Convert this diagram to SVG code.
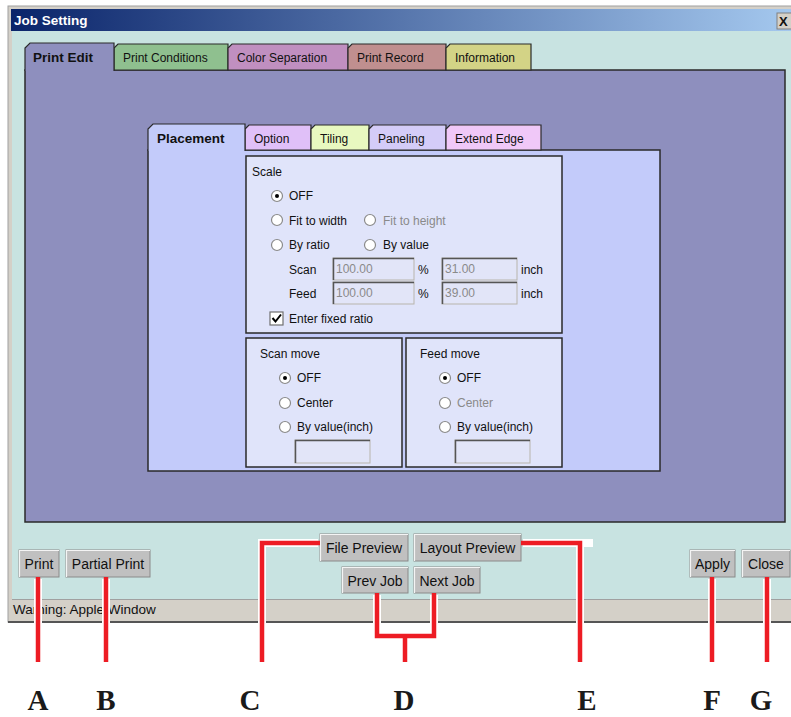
<svg xmlns="http://www.w3.org/2000/svg" width="791" height="717" viewBox="0 0 791 717">
<defs>
<linearGradient id="tb" x1="0" y1="0" x2="1" y2="0">
<stop offset="0" stop-color="#0a246a"/>
<stop offset="1" stop-color="#a6caf0"/>
</linearGradient>
<style>
text{font-family:"Liberation Sans",Arial,sans-serif;font-size:12px;fill:#111}
.b{font-weight:bold;font-size:13.5px}
.g{fill:#8a8a8a}
.tab{stroke:#2a2a2a;stroke-width:1.2}
.grp{fill:#e0e4fa;stroke:#2a2a2a;stroke-width:1.5}
.inp{fill:#e2e5f8;stroke:#b8b4ac;stroke-width:1}
.inpd{fill:none;stroke:#555;stroke-width:1.5}
.btn{fill:#c0c0c0;stroke:#8a8a8a;stroke-width:1}
.btnh{fill:none;stroke:#f4f4f4;stroke-width:1.2}
.rad{fill:#fff;stroke:#8a8a8a;stroke-width:1.2}
.bt{text-anchor:middle;font-size:14px}
.st{font-size:13.5px}
.halo{fill:none;stroke:#fff;stroke-width:8}
.red{fill:none;stroke:#ed1c24;stroke-width:4.5}
.lbl{font-family:"Liberation Serif","Times New Roman",serif;font-size:29px;font-weight:bold;text-anchor:middle;fill:#1a1a1a}
</style>
</defs>
<rect width="791" height="717" fill="#fff"/>

<g id="window">
<rect x="8" y="6" width="790" height="616" fill="#d4d0c8" stroke="#a0a0a0" stroke-width="1"/>
<rect x="12" y="9" width="780" height="592" fill="#c8e3e1"/>
<rect x="11" y="9" width="790" height="22" fill="url(#tb)"/>
<text x="14" y="25" class="b" style="fill:#fff">Job Setting</text>
<rect x="777" y="13" width="16" height="16" fill="#d4d0c8" stroke="#808080"/>
<text x="779" y="26" class="b" style="font-size:13px">X</text>
<line x1="8" y1="622" x2="791" y2="622" stroke="#555" stroke-width="2"/>
</g>

<g id="main-panel">
<rect x="25" y="70" width="760" height="452" fill="#8e8fbe" stroke="#2a2a2a" stroke-width="1.5"/>
</g>

<g id="tab-print-conditions">
<path class="tab" d="M114,70 V48 L118,44 H228 V70 Z" fill="#8fc08f"/>
<text x="123" y="62">Print Conditions</text>
</g>
<g id="tab-color-separation">
<path class="tab" d="M228,70 V48 L232,44 H348 V70 Z" fill="#c08fc0"/>
<text x="237" y="62">Color Separation</text>
</g>
<g id="tab-print-record">
<path class="tab" d="M348,70 V48 L352,44 H446 V70 Z" fill="#c08f8f"/>
<text x="357" y="62">Print Record</text>
</g>
<g id="tab-information">
<path class="tab" d="M446,70 V48 L450,44 H531 V70 Z" fill="#d3d386"/>
<text x="455" y="62">Information</text>
</g>
<g id="tab-print-edit">
<path d="M25,71 V48 L30,43 H114 V71 Z" fill="#8e8fbe"/>
<path class="tab" d="M25,71 V48 L30,43 H114 V71" fill="none"/>
<text x="33" y="62" class="b">Print Edit</text>
</g>

<g id="inner-panel">
<rect x="148" y="150" width="512" height="321" fill="#c3cbfa" stroke="#2a2a2a" stroke-width="1.5"/>
</g>
<g id="tab-option">
<path class="tab" d="M245,150 V129 L249,125 H311 V150 Z" fill="#e0c0f8"/>
<text x="254" y="143">Option</text>
</g>
<g id="tab-tiling">
<path class="tab" d="M311,150 V129 L315,125 H369 V150 Z" fill="#e8f8c0"/>
<text x="320" y="143">Tiling</text>
</g>
<g id="tab-paneling">
<path class="tab" d="M369,150 V129 L373,125 H446 V150 Z" fill="#d4ccf8"/>
<text x="378" y="143">Paneling</text>
</g>
<g id="tab-extend-edge">
<path class="tab" d="M446,150 V129 L450,125 H541 V150 Z" fill="#f0c8f8"/>
<text x="455" y="143">Extend Edge</text>
</g>
<g id="tab-placement">
<path d="M148,151 V129 L153,124 H245 V151 Z" fill="#c3cbfa"/>
<path class="tab" d="M148,151 V129 L153,124 H245 V151" fill="none"/>
<text x="157" y="143" class="b">Placement</text>
</g>

<g id="scale-box">
<rect class="grp" x="246" y="156" width="316" height="177"/>
<text x="252" y="176">Scale</text>
<circle class="rad" cx="277" cy="196" r="5.5"/><circle cx="277" cy="196" r="2" fill="#000"/>
<text x="289" y="200">OFF</text>
<circle class="rad" cx="277" cy="220" r="5.5"/>
<text x="289" y="225">Fit to width</text>
<circle class="rad" cx="370" cy="220" r="5.5"/>
<text x="383" y="225" class="g">Fit to height</text>
<circle class="rad" cx="277" cy="245" r="5.5"/>
<text x="289" y="249">By ratio</text>
<circle class="rad" cx="370" cy="245" r="5.5"/>
<text x="383" y="249">By value</text>
<text x="289" y="274">Scan</text>
<rect class="inp" x="333" y="258" width="81" height="22"/>
<path class="inpd" d="M333.5,280 V258.5 H414"/>
<text x="336" y="273" class="g">100.00</text>
<text x="418" y="274">%</text>
<rect class="inp" x="442" y="258" width="75" height="22"/>
<path class="inpd" d="M442.5,280 V258.5 H517"/>
<text x="445" y="273" class="g">31.00</text>
<text x="521" y="274">inch</text>
<text x="289" y="298">Feed</text>
<rect class="inp" x="333" y="282" width="81" height="22"/>
<path class="inpd" d="M333.5,304 V282.5 H414"/>
<text x="336" y="297" class="g">100.00</text>
<text x="418" y="298">%</text>
<rect class="inp" x="442" y="282" width="75" height="22"/>
<path class="inpd" d="M442.5,304 V282.5 H517"/>
<text x="445" y="297" class="g">39.00</text>
<text x="521" y="298">inch</text>
<rect x="270" y="312" width="13" height="13" fill="#fff" stroke="#707070" stroke-width="1.2"/>
<path d="M272.5,318 L275.5,321.5 L281,314.5" fill="none" stroke="#000" stroke-width="2"/>
<text x="289" y="323">Enter fixed ratio</text>
</g>

<g id="scan-move-box">
<rect class="grp" x="246" y="338" width="156" height="129"/>
<text x="260" y="358">Scan move</text>
<circle class="rad" cx="285" cy="378" r="5.5"/><circle cx="285" cy="378" r="2" fill="#000"/>
<text x="297" y="382">OFF</text>
<circle class="rad" cx="285" cy="403" r="5.5"/>
<text x="297" y="407">Center</text>
<circle class="rad" cx="285" cy="427" r="5.5"/>
<text x="297" y="431">By value(inch)</text>
<rect class="inp" x="295" y="440" width="75" height="23"/>
<path class="inpd" d="M295.5,463 V440.5 H370"/>
</g>

<g id="feed-move-box">
<rect class="grp" x="406" y="338" width="156" height="129"/>
<text x="420" y="358">Feed move</text>
<circle class="rad" cx="445" cy="378" r="5.5"/><circle cx="445" cy="378" r="2" fill="#000"/>
<text x="457" y="382">OFF</text>
<circle class="rad" cx="445" cy="403" r="5.5"/>
<text x="457" y="407" class="g">Center</text>
<circle class="rad" cx="445" cy="427" r="5.5"/>
<text x="457" y="431">By value(inch)</text>
<rect class="inp" x="455" y="440" width="75" height="23"/>
<path class="inpd" d="M455.5,463 V440.5 H530"/>
</g>

<g id="status-bar">
<rect x="12" y="599" width="780" height="21" fill="#d4d0c8"/>
<line x1="12" y1="599.5" x2="792" y2="599.5" stroke="#a0a0a0"/>
<text x="13" y="614" class="st">Warning: Apple Window</text>
</g>

<g id="btn-print">
<rect class="btn" x="19" y="550" width="40" height="27"/>
<path class="btnh" d="M19.5,577 V550.5 H59"/>
<text x="39" y="569" class="bt">Print</text>
</g>
<g id="btn-partial-print">
<rect class="btn" x="66" y="550" width="84" height="27"/>
<path class="btnh" d="M66.5,577 V550.5 H150"/>
<text x="108" y="569" class="bt">Partial Print</text>
</g>
<g id="btn-file-preview">
<rect class="btn" x="320" y="534" width="88" height="27"/>
<path class="btnh" d="M320.5,561 V534.5 H408"/>
<text x="364" y="553" class="bt">File Preview</text>
</g>
<g id="btn-layout-preview">
<rect class="btn" x="414" y="534" width="107" height="27"/>
<path class="btnh" d="M414.5,561 V534.5 H521"/>
<text x="467.5" y="553" class="bt">Layout Preview</text>
</g>
<g id="btn-prev-job">
<rect class="btn" x="342" y="567" width="66" height="26"/>
<path class="btnh" d="M342.5,593 V567.5 H408"/>
<text x="375" y="585.5" class="bt">Prev Job</text>
</g>
<g id="btn-next-job">
<rect class="btn" x="414" y="567" width="66" height="26"/>
<path class="btnh" d="M414.5,593 V567.5 H480"/>
<text x="447" y="585.5" class="bt">Next Job</text>
</g>
<g id="btn-apply">
<rect class="btn" x="690" y="550" width="45" height="27"/>
<path class="btnh" d="M690.5,577 V550.5 H735"/>
<text x="712.5" y="569" class="bt">Apply</text>
</g>
<g id="btn-close">
<rect class="btn" x="742" y="550" width="48" height="27"/>
<path class="btnh" d="M742.5,577 V550.5 H790"/>
<text x="766" y="569" class="bt">Close</text>
</g>

<g id="connectors">
<path class="halo" d="M38,579 V662 M106,579 V662 M318,543 H262 V662 M377,595 V636 H434 V595 M405,636 V662 M523,543 H593 M580,543 V662 M712,579 V662 M767,579 V662"/>
<path class="red" d="M38,577 V662"/>
<path class="red" d="M106,577 V662"/>
<path class="red" d="M320,543 H262 V662"/>
<path class="red" d="M377,593 V636 H434 V593"/>
<path class="red" d="M405,636 V662"/>
<path class="red" d="M521,543 H580 V662"/>
<path class="red" d="M712,577 V662"/>
<path class="red" d="M767,577 V662"/>
</g>

<g id="labels">
<text class="lbl" x="38" y="710">A</text>
<text class="lbl" x="106" y="710">B</text>
<text class="lbl" x="250" y="710">C</text>
<text class="lbl" x="404" y="710">D</text>
<text class="lbl" x="587" y="710">E</text>
<text class="lbl" x="712" y="710">F</text>
<text class="lbl" x="761" y="710">G</text>
</g>
</svg>
